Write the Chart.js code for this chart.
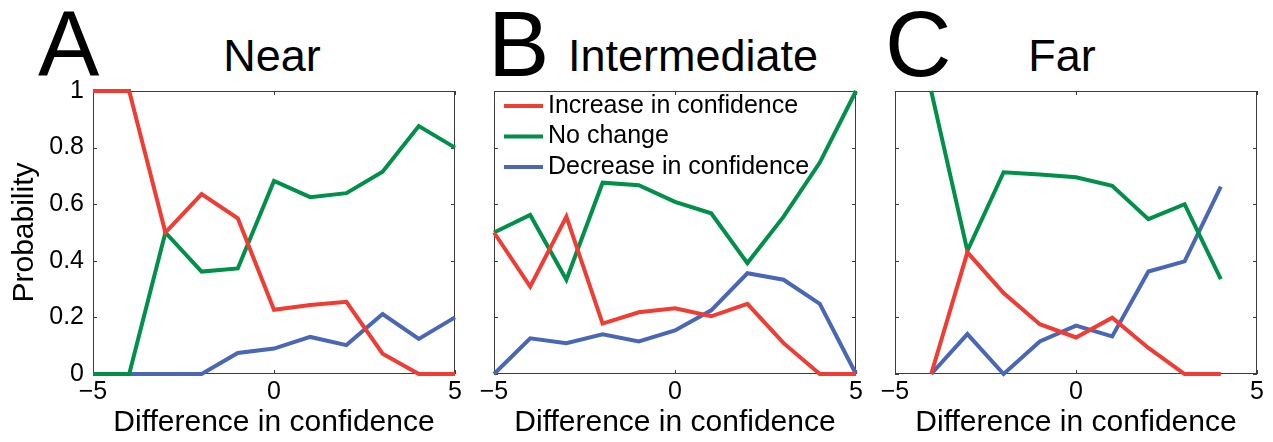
<!DOCTYPE html>
<html lang="en">
<head>
    <meta charset="UTF-8">
    <title>Probability by difference in confidence</title>
    <style>
        body {
            margin: 0;
            background: #fff;
            font-family: "Liberation Sans", Arial, sans-serif;
        }
        #wrap {
            position: relative;
            width: 1273px;
            height: 442px;
            overflow: hidden;
        }
        canvas {
            position: absolute;
            top: 0;
        }
        .letter {
            position: absolute;
            top: -2px;
            font-size: 92px;
            line-height: 1;
            color: #000;
        }
        .title {
            position: absolute;
            top: 33px;
            width: 400px;
            font-size: 45px;
            line-height: 1;
            text-align: center;
            color: #000;
        }
    </style>
    <script src="https://cdn.jsdelivr.net/npm/chart.js"></script>
</head>
<body>
<div id="wrap">
    <div class="letter" style="left:38px">A</div>
    <div class="title" style="left:72px">Near</div>
    <div class="letter" style="left:488px">B</div>
    <div class="title" style="left:493px">Intermediate</div>
    <div class="letter" style="left:885px">C</div>
    <div class="title" style="left:862px">Far</div>

    <canvas id="near" width="470" height="442" style="left:0px"></canvas>
    <canvas id="inter" width="400" height="442" style="left:470px"></canvas>
    <canvas id="far" width="403" height="442" style="left:870px"></canvas>
</div>

<script>
    const xValues = [-5, -4, -3, -2, -1, 0, 1, 2, 3, 4, 5];
    const seriesNames = ['Increase in confidence', 'No change', 'Decrease in confidence'];
    const seriesColors = ['#f03c32', '#00904a', '#4a67b5'];

    // A: near
    const nearIncrease = [1, 1, 0.5, 0.636, 0.55, 0.227, 0.244, 0.255, 0.072, 0, 0];
    const nearNoChange = [0, 0, 0.5, 0.362, 0.373, 0.682, 0.625, 0.639, 0.715, 0.876, 0.8];
    const nearDecrease = [0, 0, 0, 0, 0.074, 0.09, 0.131, 0.102, 0.212, 0.124, 0.2];

    // B: intermediate
    const interIncrease = [0.5, 0.309, 0.556, 0.178, 0.218, 0.232, 0.204, 0.248, 0.109, 0, 0];
    const interNoChange = [0.5, 0.562, 0.333, 0.676, 0.667, 0.608, 0.568, 0.392, 0.556, 0.747, 1];
    const interDecrease = [0, 0.126, 0.109, 0.14, 0.115, 0.154, 0.225, 0.356, 0.333, 0.248, 0];

    // C: far (no data at -5 and 5)
    const farIncrease = [null, 0, 0.43, 0.286, 0.176, 0.129, 0.199, 0.092, 0, 0, null];
    const farNoChange = [null, 1, 0.435, 0.713, 0.705, 0.695, 0.665, 0.547, 0.6, 0.335, null];
    const farDecrease = [null, 0, 0.141, 0, 0.115, 0.171, 0.133, 0.362, 0.398, 0.662, null];

    const xTicks = [-5, 0, 5];
    const yTicks = [0, 0.2, 0.4, 0.6, 0.8, 1];

    Chart.defaults.font.family = '"Liberation Sans", Arial, sans-serif';
    Chart.defaults.color = '#000';

    // box with inward tick marks, matlab style
    const frame = {
        id: 'frame',
        beforeDatasetsDraw(chart) {
            const { ctx, chartArea: a, scales: { x, y } } = chart;
            ctx.save();
            ctx.strokeStyle = '#3c3c3c';
            ctx.lineWidth = 1;
            ctx.strokeRect(a.left + 0.5, a.top + 0.5, a.width - 1, a.height - 1);
            ctx.beginPath();
            xTicks.forEach(v => {
                const px = Math.round(x.getPixelForValue(v)) + 0.5;
                ctx.moveTo(px, a.top);
                ctx.lineTo(px, a.top + 4);
                ctx.moveTo(px, a.bottom);
                ctx.lineTo(px, a.bottom - 4);
            });
            yTicks.forEach(v => {
                const py = Math.round(y.getPixelForValue(v)) + 0.5;
                ctx.moveTo(a.left, py);
                ctx.lineTo(a.left + 4, py);
                ctx.moveTo(a.right, py);
                ctx.lineTo(a.right - 4, py);
            });
            ctx.stroke();
            ctx.restore();
        }
    };

    // legend inside the plot, no box
    const lineLegend = {
        id: 'lineLegend',
        afterDatasetsDraw(chart) {
            const { ctx, chartArea: a } = chart;
            ctx.save();
            ctx.font = '25px "Liberation Sans", Arial, sans-serif';
            ctx.textBaseline = 'middle';
            ctx.fillStyle = '#000';
            chart.data.datasets.forEach((ds, i) => {
                const yy = a.top + 15 + i * 30.5;
                ctx.strokeStyle = ds.borderColor;
                ctx.lineWidth = 4;
                ctx.beginPath();
                ctx.moveTo(a.left + 10, yy);
                ctx.lineTo(a.left + 49, yy);
                ctx.stroke();
                ctx.fillText(ds.label, a.left + 54, yy);
            });
            ctx.restore();
        }
    };

    function makeChart(id, series, yWidth, padRight, first, legend) {
        const datasets = series.map((vals, i) => ({
            label: seriesNames[i],
            data: xValues.map((x, j) => ({ x: x, y: vals[j] })),
            borderColor: seriesColors[i],
            backgroundColor: seriesColors[i],
            borderWidth: 4,
            pointRadius: 0,
            tension: 0,
            clip: false
        }));

        return new Chart(document.getElementById(id), {
            type: 'line',
            data: { datasets: datasets },
            options: {
                responsive: false,
                animation: false,
                layout: { padding: { top: 91, right: padRight, bottom: 0, left: 0 } },
                plugins: {
                    legend: { display: false },
                    tooltip: { enabled: false }
                },
                scales: {
                    x: {
                        type: 'linear',
                        min: -5,
                        max: 5,
                        grid: { display: false, drawTicks: false },
                        border: { display: false },
                        afterBuildTicks: (scale) => { scale.ticks = xTicks.map(v => ({ value: v })); },
                        afterFit: (scale) => { scale.height = 68; },
                        ticks: {
                            font: { size: 25 },
                            padding: 3,
                            maxRotation: 0,
                            autoSkip: false,
                            callback: (v) => v < 0 ? '\u2212' + Math.abs(v) : String(v)
                        },
                        title: {
                            display: true,
                            text: 'Difference in confidence',
                            font: { size: 30 },
                            padding: { top: 0, bottom: 1 }
                        }
                    },
                    y: {
                        min: 0,
                        max: 1,
                        grid: { display: false, drawTicks: false },
                        border: { display: false },
                        afterBuildTicks: (scale) => { scale.ticks = yTicks.map(v => ({ value: v })); },
                        afterFit: (scale) => { scale.width = yWidth; },
                        ticks: {
                            display: first,
                            font: { size: 25 },
                            padding: 9,
                            callback: (v) => String(+v.toFixed(1))
                        },
                        title: {
                            display: first,
                            text: 'Probability',
                            font: { size: 30 },
                            padding: { top: 7, bottom: 0 }
                        }
                    }
                }
            },
            plugins: legend ? [frame, lineLegend] : [frame]
        });
    }

    makeChart('near', [nearIncrease, nearNoChange, nearDecrease], 93, 15, true, false);
    makeChart('inter', [interIncrease, interNoChange, interDecrease], 24, 14, false, true);
    makeChart('far', [farIncrease, farNoChange, farDecrease], 25, 16, false, false);
</script>
</body>
</html>
